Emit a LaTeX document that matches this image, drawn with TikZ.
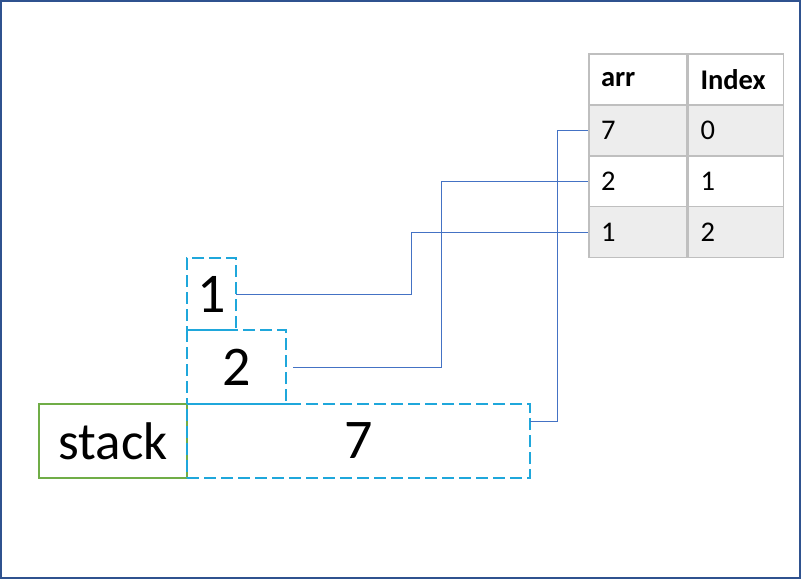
\documentclass[tikz,border=0pt]{standalone}
\usepackage{fontspec}
\setmainfont{Carlito}
\usetikzlibrary{positioning}
\definecolor{frameblue}{HTML}{2F528F}
\definecolor{stackgreen}{HTML}{70AD47}
\definecolor{slotblue}{HTML}{1FA7DB}
\definecolor{linkblue}{HTML}{4472C4}
\definecolor{gridgray}{HTML}{BFBFBF}
\definecolor{rowgray}{HTML}{EDEDED}
\begin{document}
\begin{tikzpicture}[
  x=1pt, y=-1pt,
  slot/.style={draw=slotblue, line width=2pt, dash pattern=on 12pt off 5pt,
    minimum height=74pt, inner sep=0pt, outer sep=0pt, font=\fontsize{56}{60}\selectfont},
  label box/.style={draw=stackgreen, line width=1.5pt, minimum width=148pt,
    minimum height=74pt, inner sep=0pt, font=\fontsize{53}{60}\selectfont},
  cell/.style={draw=gridgray, line width=1.5pt, minimum height=51pt,
    inner xsep=12pt, inner ysep=0pt, align=left, font=\fontsize{28.5}{30}\selectfont},
  arr col/.style={cell, text width=74pt},
  idx col/.style={cell, text width=71pt},
  link/.style={draw=linkblue, line width=0.9pt}
]
  \useasboundingbox (0,0) rectangle (801,579);
  \draw[frameblue, line width=1.5pt] (1,1) rectangle (800,578);

  % Stack
  \node[label box] (stack) at (113,441) {stack};
  \node[slot, minimum width=343pt] (seven) at (358.5,441) {7};
  \node[slot, minimum width=99pt] (two) at (236.5,367) {2};
  \node[slot, minimum width=49pt, minimum height=72pt] (one) at (211.5,294) {1};
  \draw[slotblue, line width=2pt] (seven.north west) -- ++(110,0);

  % Table
  \node[arr col] (arrh) at (638,79.5) {\textbf{arr}};
  \node[idx col, right=0pt of arrh] (idxh) {\textbf{Index}};
  \foreach \v/\i/\f [count=\r from 0] in {7/0/rowgray, 2/1/white, 1/2/rowgray} {
    \node[arr col, fill=\f] (a\i) at (638,130.5+50.8*\r) {\v};
    \node[idx col, fill=\f, right=0pt of a\i] (x\i) {\i};
  }

  % Links
  \draw[link] (one.east) -- ++(175,0) |- (a2.west);
  \draw[link] ([xshift=7pt]two.east) -- ++(148,0) |- (a1.west);
  \draw[link] ([yshift=20pt]seven.east) -- ++(27,0) |- (a0.west);
\end{tikzpicture}
\end{document}
